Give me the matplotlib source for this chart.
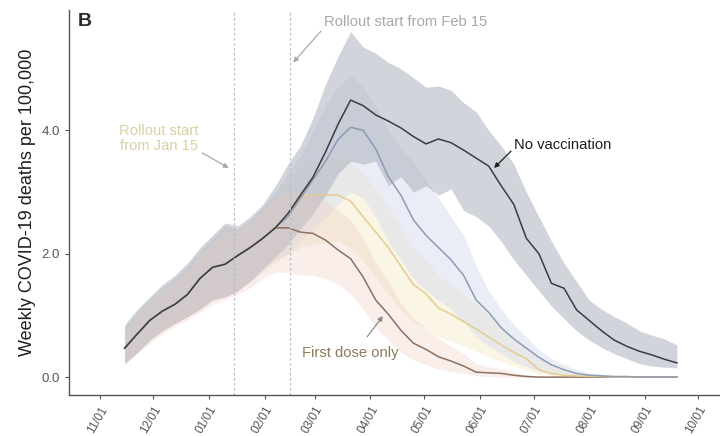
import numpy as np
import pandas as pd
import matplotlib
matplotlib.use('Agg')
import matplotlib.pyplot as plt
import matplotlib.dates as mdates

plt.rcParams['font.family'] = ['Liberation Sans', 'DejaVu Sans']

weeks = pd.date_range('2020-11-15', periods=45, freq='7D')

# no vaccination
novax_mid = [0.47, 0.70, 0.92, 1.07, 1.18, 1.34, 1.60, 1.78, 1.83, 1.97, 2.10, 2.25, 2.42, 2.65, 2.95,
             3.24, 3.65, 4.10, 4.49, 4.40, 4.25, 4.15, 4.04, 3.90, 3.78, 3.86, 3.80, 3.68, 3.55, 3.42,
             3.10, 2.80, 2.25, 2.00, 1.52, 1.44, 1.09, 0.92, 0.75, 0.60, 0.50, 0.42, 0.36, 0.29, 0.23]
novax_hi = [0.85, 1.10, 1.30, 1.50, 1.65, 1.85, 2.10, 2.30, 2.50, 2.45, 2.60, 2.80, 3.10, 3.45, 3.75,
            4.20, 4.75, 5.20, 5.60, 5.35, 5.25, 5.10, 5.00, 4.85, 4.70, 4.72, 4.65, 4.45, 4.30, 4.00,
            3.75, 3.45, 3.00, 2.60, 2.20, 1.85, 1.55, 1.25, 1.10, 0.98, 0.88, 0.75, 0.68, 0.62, 0.52]
novax_lo = [0.22, 0.40, 0.60, 0.75, 0.87, 0.98, 1.10, 1.25, 1.30, 1.40, 1.55, 1.75, 1.95, 2.15, 2.40,
            2.65, 2.95, 3.30, 3.50, 3.45, 3.50, 3.10, 3.25, 3.00, 3.10, 2.95, 3.05, 2.70, 2.60, 2.45,
            2.20, 1.90, 1.65, 1.40, 1.15, 0.95, 0.75, 0.60, 0.48, 0.38, 0.30, 0.22, 0.18, 0.16, 0.15]

# rollout from Feb 15
feb_mid = [0.47, 0.70, 0.92, 1.07, 1.18, 1.34, 1.60, 1.78, 1.83, 1.97, 2.10, 2.25, 2.42, 2.60, 2.90,
           3.20, 3.50, 3.85, 4.05, 4.00, 3.70, 3.25, 2.95, 2.55, 2.30, 2.10, 1.90, 1.65, 1.25, 1.05,
           0.80, 0.62, 0.47, 0.32, 0.20, 0.12, 0.06, 0.03, 0.02, 0.01, 0.01, 0.00, 0.00, 0.00, 0.00]
feb_hi = [0.80, 1.05, 1.25, 1.45, 1.60, 1.80, 2.05, 2.25, 2.45, 2.40, 2.55, 2.75, 3.00, 3.30, 3.60,
          4.00, 4.40, 4.70, 4.90, 4.70, 4.40, 4.00, 3.70, 3.50, 3.20, 2.90, 2.60, 2.30, 1.80, 1.40,
          1.10, 0.85, 0.65, 0.45, 0.30, 0.20, 0.12, 0.07, 0.05, 0.03, 0.02, 0.02, 0.01, 0.01, 0.01]
feb_lo = [0.22, 0.40, 0.60, 0.75, 0.87, 0.98, 1.10, 1.25, 1.30, 1.40, 1.55, 1.75, 1.90, 2.00, 2.20,
          2.40, 2.60, 2.80, 3.00, 2.90, 2.60, 2.20, 1.90, 1.60, 1.40, 1.25, 1.10, 0.90, 0.65, 0.50,
          0.38, 0.25, 0.17, 0.10, 0.05, 0.03, 0.01, 0.00, 0.00, 0.00, 0.00, 0.00, 0.00, 0.00, 0.00]

# rollout from Jan 15
jan_mid = [0.47, 0.70, 0.92, 1.07, 1.18, 1.34, 1.60, 1.78, 1.83, 1.97, 2.10, 2.25, 2.42, 2.65, 2.92,
           2.95, 2.95, 2.95, 2.85, 2.60, 2.35, 2.10, 1.80, 1.50, 1.35, 1.12, 1.02, 0.90, 0.78, 0.65,
           0.52, 0.40, 0.30, 0.12, 0.06, 0.03, 0.02, 0.01, 0.01, 0.00, 0.00, 0.00, 0.00, 0.00, 0.00]
jan_hi = [0.80, 1.05, 1.25, 1.45, 1.60, 1.80, 2.05, 2.25, 2.45, 2.40, 2.55, 2.75, 3.00, 3.20, 3.40,
          3.50, 3.55, 3.55, 3.50, 3.30, 3.05, 2.75, 2.45, 2.10, 1.90, 1.65, 1.50, 1.35, 1.20, 1.00,
          0.82, 0.65, 0.50, 0.30, 0.18, 0.10, 0.06, 0.04, 0.02, 0.01, 0.01, 0.01, 0.01, 0.01, 0.01]
jan_lo = [0.22, 0.40, 0.60, 0.75, 0.87, 0.98, 1.10, 1.25, 1.30, 1.40, 1.55, 1.70, 1.85, 2.00, 2.10,
          2.15, 2.20, 2.20, 2.10, 1.90, 1.60, 1.35, 1.10, 0.90, 0.80, 0.65, 0.58, 0.50, 0.42, 0.33,
          0.25, 0.18, 0.12, 0.05, 0.02, 0.00, 0.00, 0.00, 0.00, 0.00, 0.00, 0.00, 0.00, 0.00, 0.00]

# first dose only
first_mid = [0.47, 0.70, 0.92, 1.07, 1.18, 1.34, 1.60, 1.78, 1.83, 1.97, 2.10, 2.25, 2.42, 2.42, 2.35,
             2.33, 2.22, 2.06, 1.92, 1.62, 1.25, 1.02, 0.76, 0.55, 0.45, 0.33, 0.26, 0.18, 0.08, 0.07,
             0.06, 0.03, 0.01, 0.00, 0.00, 0.00, 0.00, 0.00, 0.00, 0.00, 0.00, 0.00, 0.00, 0.00, 0.00]
first_hi = [0.75, 1.00, 1.20, 1.40, 1.55, 1.75, 2.00, 2.20, 2.35, 2.40, 2.50, 2.70, 2.90, 3.00, 3.00,
            2.95, 2.85, 2.70, 2.55, 2.25, 1.85, 1.55, 1.20, 0.95, 0.80, 0.62, 0.50, 0.38, 0.22, 0.17,
            0.13, 0.08, 0.04, 0.02, 0.01, 0.01, 0.00, 0.00, 0.00, 0.00, 0.00, 0.00, 0.00, 0.00, 0.00]
first_lo = [0.20, 0.38, 0.55, 0.70, 0.82, 0.93, 1.05, 1.18, 1.25, 1.35, 1.45, 1.60, 1.70, 1.70, 1.65,
            1.65, 1.60, 1.50, 1.35, 1.10, 0.80, 0.60, 0.40, 0.28, 0.20, 0.13, 0.09, 0.06, 0.02, 0.01,
            0.00, 0.00, 0.00, 0.00, 0.00, 0.00, 0.00, 0.00, 0.00, 0.00, 0.00, 0.00, 0.00, 0.00, 0.00]

rollout_dates = pd.to_datetime(['2021-01-15', '2021-02-15'])

fig = plt.figure(figsize=(7.2, 4.36), dpi=100)
ax = fig.add_axes([0.096, 0.094, 0.904, 0.883])

# scenario uncertainty bands; the pink one goes over the grey to warm it up
ax.fill_between(weeks, jan_lo, jan_hi, color='#f6ecca', alpha=0.50, lw=0)
ax.fill_between(weeks, feb_lo, feb_hi, color='#dadfee', alpha=0.55, lw=0)
ax.fill_between(weeks, novax_lo, novax_hi, color='#adb2bf', alpha=0.55, lw=0)
ax.fill_between(weeks, first_lo, first_hi, color='#ecc8ba', alpha=0.30, lw=0)

ax.plot(weeks, first_mid, color='#8e6f60', lw=1.1)
ax.plot(weeks, jan_mid, color='#e3cc8e', lw=1.1)
ax.plot(weeks, feb_mid, color='#8d9ab5', lw=1.1)
ax.plot(weeks, novax_mid, color='#3b3b40', lw=1.1)

for d in rollout_dates:
    ax.axvline(d, color='#b8bcc8', lw=0.9, ls=(0, (2, 2)))

arrow = dict(arrowstyle='-|>', lw=0.9, mutation_scale=7, shrinkA=0, shrinkB=0)
ax.annotate('Rollout start from Feb 15', xy=(pd.Timestamp('2021-02-17'), 5.1),
            xytext=(pd.Timestamp('2021-03-06'), 5.75), fontsize=10.6, color='#a8a8a8',
            va='center', ha='left',
            arrowprops=dict(arrow, color='#a8a8a8', relpos=(0.0, 0.1)))
ax.annotate('Rollout start\nfrom Jan 15', xy=(pd.Timestamp('2021-01-12'), 3.39),
            xytext=(pd.Timestamp('2020-12-04'), 3.87), fontsize=10.6, color='#d8d0a2',
            va='center', ha='center', linespacing=1.1,
            arrowprops=dict(arrow, color='#a8a8a8', relpos=(1.05, 0.0)))
ax.annotate('No vaccination', xy=(pd.Timestamp('2021-06-09'), 3.39),
            xytext=(pd.Timestamp('2021-06-20'), 3.76), fontsize=10.6, color='#1e1e1e',
            va='center', ha='left',
            arrowprops=dict(arrow, color='#1e1e1e', relpos=(-0.01, 0.2)))
ax.annotate('First dose only', xy=(pd.Timestamp('2021-04-08'), 0.99),
            xytext=(pd.Timestamp('2021-02-22'), 0.39), fontsize=10.6, color='#8a7b56',
            va='center', ha='left',
            arrowprops=dict(arrow, color='#8a8a8a', relpos=(0.6, 1.0), shrinkA=6))

ax.text(0.014, 0.969, 'B', transform=ax.transAxes, fontsize=14, fontweight='bold',
        color='#2a2a2a', va='center', ha='left')

ax.set_xlim(pd.Timestamp('2020-10-15'), pd.Timestamp('2021-10-13'))
ax.set_ylim(-0.29, 5.95)
ax.set_yticks([0, 2, 4])
ax.yaxis.set_major_formatter(plt.FormatStrFormatter('%.1f'))
ax.xaxis.set_major_locator(mdates.MonthLocator())
ax.xaxis.set_major_formatter(mdates.DateFormatter('%m/%d'))
for lab in ax.get_xticklabels():
    lab.set_rotation(60)
    lab.set_ha('right')
    lab.set_rotation_mode('anchor')

ax.set_ylabel('Weekly COVID-19 deaths per 100,000', fontsize=13, color='#1e1e1e', labelpad=4)
ax.tick_params(axis='both', colors='#555555', length=3, width=0.8)
ax.tick_params(axis='y', labelcolor='#555555', labelsize=9.5)
ax.tick_params(axis='x', labelcolor='#555555', labelsize=8.5)
for s in ['top', 'right']:
    ax.spines[s].set_visible(False)
for s in ['left', 'bottom']:
    ax.spines[s].set_color('#555555')
    ax.spines[s].set_linewidth(1.0)

fig.savefig('out.png', dpi=100)
